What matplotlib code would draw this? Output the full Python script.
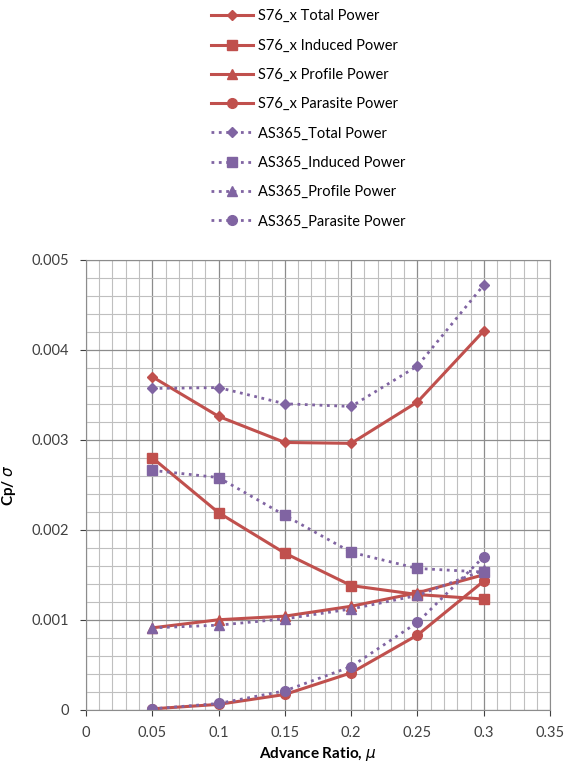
import matplotlib
matplotlib.use("Agg")
import matplotlib.pyplot as plt
from matplotlib.ticker import MultipleLocator, FuncFormatter

plt.rcParams['font.family'] = ['Lato', 'DejaVu Sans']

mu = [0.05, 0.1, 0.15, 0.2, 0.25, 0.3]

s76_total = [0.00370, 0.00326, 0.00297, 0.00296, 0.00342, 0.00421]
s76_induced = [0.00280, 0.00219, 0.00174, 0.00138, 0.00128, 0.00123]
s76_profile = [0.00091, 0.00100, 0.00104, 0.00115, 0.00130, 0.00150]
s76_parasite = [0.00001, 0.00006, 0.00017, 0.00041, 0.00083, 0.00143]

as365_total = [0.00357, 0.00358, 0.00340, 0.00337, 0.00382, 0.00472]
as365_induced = [0.00266, 0.00258, 0.00216, 0.00175, 0.00157, 0.00153]
as365_profile = [0.00091, 0.00094, 0.00101, 0.00112, 0.00127, 0.00155]
as365_parasite = [0.00001, 0.00007, 0.00021, 0.00048, 0.00097, 0.00170]

red = "#C0504D"
purple = "#8064A2"

fig = plt.figure(figsize=(5.73, 7.64), dpi=100)
ax = fig.add_axes([0.150, 0.071, 0.810, 0.589])

series = [
    (s76_total, "S76_x Total Power", red, "-", "D", 5),
    (s76_induced, "S76_x Induced Power", red, "-", "s", 7),
    (s76_profile, "S76_x Profile Power", red, "-", "^", 7),
    (s76_parasite, "S76_x Parasite Power", red, "-", "o", 7),
    (as365_total, "AS365_Total Power", purple, ":", "D", 5),
    (as365_induced, "AS365_Induced Power", purple, ":", "s", 7),
    (as365_profile, "AS365_Profile Power", purple, ":", "^", 7),
    (as365_parasite, "AS365_Parasite Power", purple, ":", "o", 7),
]

for vals, label, col, ls, mk, ms in series:
    lw = 2.2 if ls == "-" else 2.0
    ax.plot(mu, vals, color=col, linestyle=ls, linewidth=lw, marker=mk,
            markersize=ms, markeredgecolor=col, markerfacecolor=col, label=label)

ax.set_xlim(0, 0.35)
ax.set_ylim(0, 0.005)
ax.xaxis.set_major_locator(MultipleLocator(0.05))
ax.xaxis.set_minor_locator(MultipleLocator(0.01))
ax.yaxis.set_major_locator(MultipleLocator(0.001))
ax.yaxis.set_minor_locator(MultipleLocator(0.0002))
fmt = FuncFormatter(lambda v, p: "%g" % round(v, 6))
ax.xaxis.set_major_formatter(fmt)
ax.yaxis.set_major_formatter(fmt)
ax.grid(which="major", color="#8c8c8c", linewidth=0.9)
ax.grid(which="minor", color="#bfbfbf", linewidth=0.8)
ax.set_axisbelow(True)
ax.tick_params(which="both", length=0, labelsize=10.5, colors="#404040", pad=8)
ax.tick_params(which="major", length=4, colors="#404040")
for sp in ax.spines.values():
    sp.set_color("#8c8c8c")

ax.set_xlabel(r"Advance Ratio, $\mu$", fontsize=11, fontweight="bold", labelpad=3)
ax.set_ylabel(r"Cp/ $\sigma$", fontsize=11, fontweight="bold", labelpad=10)

fig.legend(loc="upper left", bbox_to_anchor=(0.345, 1.005), frameon=False,
           fontsize=10.5, handlelength=2.9, labelspacing=1.05, handletextpad=0.35)

fig.savefig("out.png", dpi=100)
